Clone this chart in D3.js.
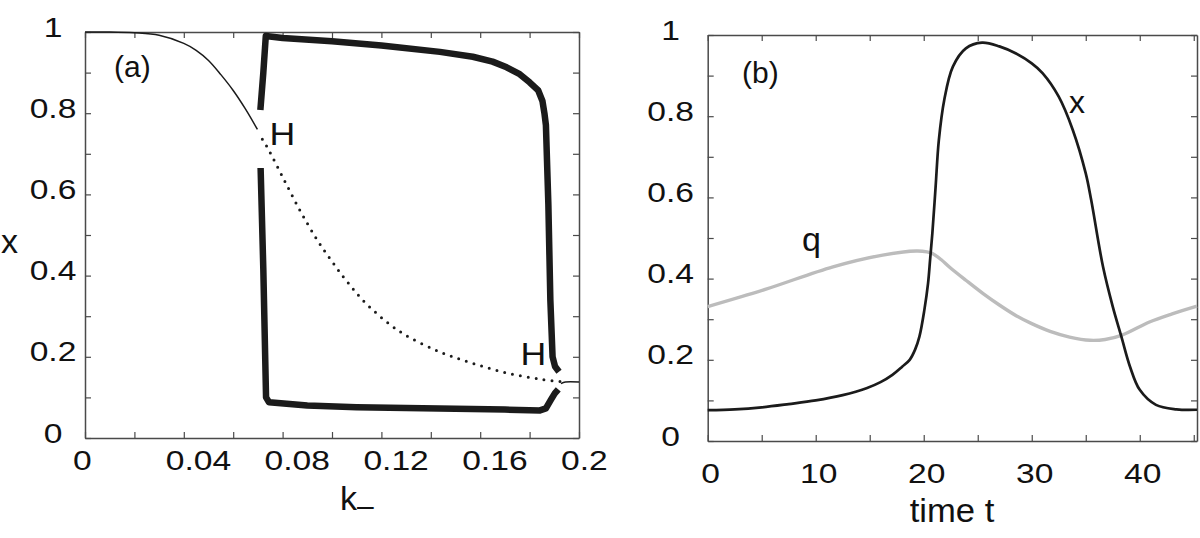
<!DOCTYPE html>
<html>
<head>
<meta charset="utf-8">
<script src="https://cdn.jsdelivr.net/npm/d3@7"></script>
<style>
  html, body { margin: 0; padding: 0; background: #fff; }
  svg { display: block; font-family: "Liberation Sans", Arial, Helvetica, sans-serif; }
</style>
</head>
<body>
<svg id="chart" width="1200" height="538"></svg>
<script>
// ---------------- DATA ----------------
// Panel (a): bifurcation diagram, x vs k-
const stableLeft = [[0,1.0],[0.010,1.0],[0.020,0.998],[0.030,0.992],[0.040,0.972],[0.045,0.955],[0.050,0.930],[0.055,0.895],[0.060,0.856],[0.065,0.810],[0.0698,0.760]];
const unstable = [[0.0718,0.736],[0.0737,0.717],[0.080,0.643],[0.087,0.561],[0.094,0.488],[0.100,0.435],[0.106,0.386],[0.114,0.330],[0.1275,0.262],[0.1437,0.212],[0.157,0.184],[0.1707,0.160],[0.1842,0.145],[0.1923,0.139]];
const stableRight = [[0.1927,0.134],[0.1945,0.138],[0.2,0.138]];
const orbitMax = [[0.0710,0.808],[0.0722,0.900],[0.0732,0.990],[0.080,0.985],[0.100,0.977],[0.120,0.967],[0.1437,0.951],[0.157,0.939],[0.165,0.927],[0.1707,0.913],[0.1760,0.896],[0.1800,0.876],[0.1835,0.856],[0.1852,0.830],[0.1860,0.800],[0.1866,0.771],[0.1876,0.574],[0.1884,0.340],[0.1893,0.200],[0.1903,0.176],[0.1919,0.163]];
const orbitMin = [[0.0711,0.665],[0.0722,0.414],[0.0733,0.100],[0.0745,0.088],[0.090,0.080],[0.110,0.076],[0.130,0.074],[0.150,0.072],[0.170,0.070],[0.1842,0.068],[0.1866,0.073],[0.1886,0.094],[0.1902,0.110],[0.1916,0.120]];

const aXTickVals = [0,0.02,0.04,0.06,0.08,0.10,0.12,0.14,0.16,0.18,0.2];
const aXLabelVals = [0,0.04,0.08,0.12,0.16,0.2];
const aXLabels = ["0","0.04","0.08","0.12","0.16","0.2"];
const yTickVals = [0,0.1,0.2,0.3,0.4,0.5,0.6,0.7,0.8,0.9,1];
const yLabelVals = [0,0.2,0.4,0.6,0.8,1];
const yLabels = ["0","0.2","0.4","0.6","0.8","1"];

// Panel (b): time series
const seriesX = [[0,0.076],[2.5,0.078],[5,0.083],[7.5,0.091],[10,0.100],[12.5,0.113],[14.7,0.130],[16,0.145],[17.1,0.163],[18,0.183],[18.7,0.200],[19.2,0.225],[19.6,0.257],[20.06,0.323],[20.4,0.388],[20.6,0.450],[20.8,0.512],[21.1,0.626],[21.4,0.741],[21.9,0.840],[22.7,0.922],[23.9,0.967],[25.4,0.981],[27,0.972],[28.5,0.955],[30,0.930],[31,0.906],[32.5,0.848],[33.8,0.766],[35.0,0.659],[35.5,0.594],[36.6,0.429],[37.5,0.331],[38.3,0.257],[39.1,0.183],[40,0.126],[41.5,0.089],[43.4,0.078],[45.3,0.077]];
const seriesQ = [[0,0.331],[5.4,0.374],[11.6,0.429],[16.2,0.458],[19.3,0.468],[20.3,0.466],[20.8,0.462],[21.6,0.447],[22.4,0.428],[23.9,0.396],[25.5,0.363],[27,0.335],[28.6,0.308],[30,0.289],[31.7,0.270],[33.5,0.256],[35.4,0.248],[36.8,0.250],[38.3,0.260],[40.9,0.293],[43,0.313],[45.3,0.332]];

const bXTickVals = [0,5,10,15,20,25,30,35,40,45];
const bXLabelVals = [0,10,20,30,40];
const bXLabels = ["0","10","20","30","40"];

// ---------------- DRAW ----------------
const svg = d3.select("#chart");
const INK = "#1b1b1b", AXIS = "#4a4a4a", GREY = "#bcbcbc";

const ax = d3.scaleLinear().domain([0,0.2]).range([85,579]);
const ay = d3.scaleLinear().domain([0,1]).range([438,32]);
const bx = d3.scaleLinear().domain([0,45.3]).range([707.7,1197]);
const by = d3.scaleLinear().domain([0,1]).range([441,35]);

function txt(x, y, s, opt) {
  const o = Object.assign({size:28, anchor:"start", sx:1}, opt||{});
  const g = svg.append("g").attr("transform", `translate(${x},${y}) scale(${o.sx},1)`);
  const t = g.append("text").attr("x",0).attr("y",0)
    .attr("font-size", o.size).attr("text-anchor", o.anchor).attr("fill", "#111").text(s);
  return t;
}

function frame(xs, ys, xt, yt) {
  const [x0,x1] = xs.range(), [y0,y1] = ys.range();
  const g = svg.append("g");
  const T = 6;
  g.append("g").attr("transform",`translate(0,${y0})`)
    .call(d3.axisBottom(xs).tickValues(xt).tickSizeInner(-T).tickSizeOuter(0).tickFormat(""));
  g.append("g").attr("transform",`translate(0,${y1})`)
    .call(d3.axisTop(xs).tickValues(xt).tickSizeInner(-T).tickSizeOuter(0).tickFormat(""));
  g.append("g").attr("transform",`translate(${x0},0)`)
    .call(d3.axisLeft(ys).tickValues(yt).tickSizeInner(-T).tickSizeOuter(0).tickFormat(""));
  g.append("g").attr("transform",`translate(${x1},0)`)
    .call(d3.axisRight(ys).tickValues(yt).tickSizeInner(-T).tickSizeOuter(0).tickFormat(""));
  g.selectAll(".domain").attr("stroke", AXIS).attr("stroke-width", 1.5);
  g.selectAll(".tick line").attr("stroke", AXIS).attr("stroke-width", 1.2);
}

frame(ax, ay, aXTickVals, yTickVals);
frame(bx, by, bXTickVals, yTickVals);

// Panel (a) curves
const laLin = d3.line().x(d=>ax(d[0])).y(d=>ay(d[1]));
const laSmooth = d3.line().x(d=>ax(d[0])).y(d=>ay(d[1])).curve(d3.curveCatmullRom.alpha(0.5));

svg.append("path").datum(stableLeft).attr("d", laSmooth)
  .attr("fill","none").attr("stroke",INK).attr("stroke-width",1.5);
svg.append("path").datum(stableRight).attr("d", laSmooth)
  .attr("fill","none").attr("stroke",INK).attr("stroke-width",1.5);
svg.append("path").datum(unstable).attr("d", laSmooth)
  .attr("fill","none").attr("stroke",INK).attr("stroke-width",3)
  .attr("stroke-linecap","round").attr("stroke-dasharray","0 8");
svg.append("path").datum(orbitMax).attr("d", laLin)
  .attr("fill","none").attr("stroke",INK).attr("stroke-width",6.5)
  .attr("stroke-linejoin","round").attr("stroke-linecap","butt");
svg.append("path").datum(orbitMin).attr("d", laLin)
  .attr("fill","none").attr("stroke",INK).attr("stroke-width",6.5)
  .attr("stroke-linejoin","round").attr("stroke-linecap","butt");

// Panel (b) curves
const lb = d3.line().x(d=>bx(d[0])).y(d=>by(d[1])).curve(d3.curveCatmullRom.alpha(0.5));
svg.append("path").datum(seriesQ).attr("d", lb)
  .attr("fill","none").attr("stroke",GREY).attr("stroke-width",3.4);
svg.append("path").datum(seriesX).attr("d", lb)
  .attr("fill","none").attr("stroke",INK).attr("stroke-width",2.7);

// Tick labels panel (a)
yLabelVals.forEach((v,i)=> txt(53, ay(v)+4.5, yLabels[i], {anchor:"middle", sx:1.2}));
aXLabelVals.forEach((v,i)=> txt(ax(v) + (aXLabels[i].includes(".") ? -18 : -12), 470, aXLabels[i], {sx:1.2}));
// Tick labels panel (b)
yLabelVals.forEach((v,i)=> txt(bx.range()[0]-37, by(v)+4.5, yLabels[i], {anchor:"middle", sx:1.2}));
bXLabelVals.forEach((v,i)=> txt(bx(v)+3, 483, bXLabels[i], {anchor:"middle", sx:1.2}));

// Axis titles
txt(1, 253, "x", {size:34});
const kt = txt(340, 510, "k", {size:34});
kt.append("tspan").attr("font-size",30).attr("dy",6).text("–");
txt(952, 522, "time t", {size:33, anchor:"middle", sx:1.05});

// Annotations
txt(114, 77, "(a)", {size:30});
txt(742, 83, "(b)", {size:30});
txt(269.5, 145, "H", {size:31, sx:1.15});
txt(520.5, 365, "H", {size:31, sx:1.15});
txt(802, 251, "q", {size:34});
txt(1069, 113, "x", {size:32});
</script>
</body>
</html>
